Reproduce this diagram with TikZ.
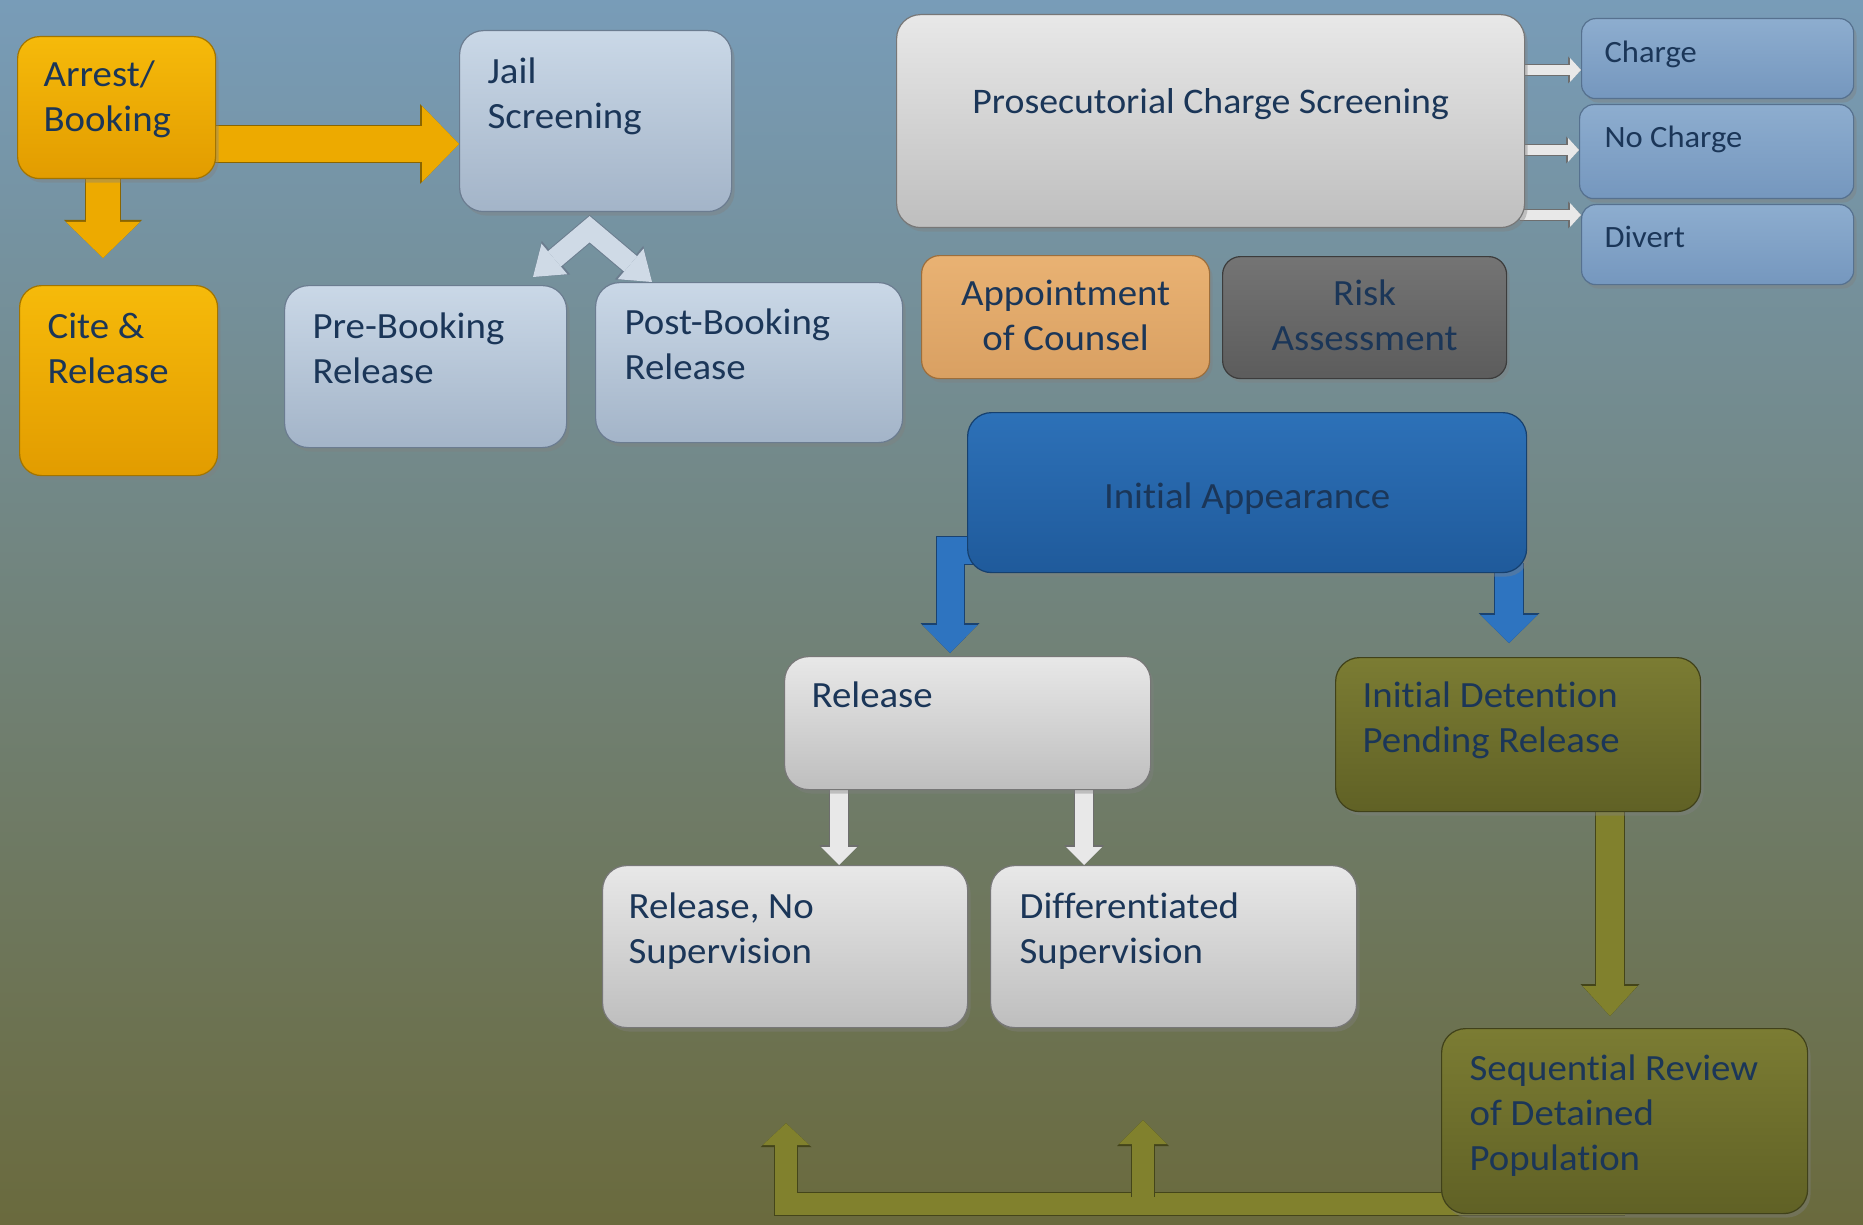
\documentclass[tikz,border=0pt]{standalone}
\usepackage{fontspec}
\setmainfont{Carlito}[FakeStretch=1.05, Ligatures=NoCommon]
\usetikzlibrary{arrows.meta,calc,shadows}
\pgfdeclarelayer{backdrop}
\pgfdeclarelayer{links}
\pgfsetlayers{backdrop,links,main}

% page gradient
\definecolor{bgT}{HTML}{789CB8}
\definecolor{bgM}{HTML}{6F8994}
\definecolor{bgB}{HTML}{6A6A3D}
% text
\definecolor{txt}{HTML}{1B3658}
% box fills
\definecolor{orT}{HTML}{F6BA0A}\definecolor{orB}{HTML}{E29C00}\definecolor{orD}{HTML}{A27400}
\definecolor{lbT}{HTML}{CAD8E7}\definecolor{lbB}{HTML}{A3B4C8}\definecolor{lbD}{HTML}{6B7C90}
\definecolor{gyT}{HTML}{E8E8E8}\definecolor{gyB}{HTML}{BEBEBE}\definecolor{gyD}{HTML}{777777}
\definecolor{cbT}{HTML}{8DADCF}\definecolor{cbB}{HTML}{7597BE}\definecolor{cbD}{HTML}{56718F}
\definecolor{tnT}{HTML}{E9B273}\definecolor{tnB}{HTML}{D9A062}\definecolor{tnD}{HTML}{9C6E3C}
\definecolor{dgT}{HTML}{747474}\definecolor{dgB}{HTML}{5C5C5C}\definecolor{dgD}{HTML}{3C3C3C}
\definecolor{iaT}{HTML}{2D71B8}\definecolor{iaB}{HTML}{1F5A9B}\definecolor{iaD}{HTML}{16406E}
\definecolor{olT}{HTML}{7B7C33}\definecolor{olB}{HTML}{606125}\definecolor{olD}{HTML}{40411A}
% arrow fills and rims
\definecolor{oaF}{HTML}{EDAA00}\definecolor{oaD}{HTML}{8A6500}
\definecolor{laF}{HTML}{CFDAE6}\definecolor{laD}{HTML}{6C7D8F}
\definecolor{waF}{HTML}{E8E8E8}\definecolor{waD}{HTML}{6E6E6E}
\definecolor{baF}{HTML}{2E74C0}\definecolor{baD}{HTML}{1A4270}
\definecolor{olF}{HTML}{81812D}\definecolor{olR}{HTML}{44451A}

% box contents: width, height, left pad, first baseline, text
\newcommand{\lbox}[5]{\parbox[c][#2pt][t]{#1pt}{\raggedright\leftskip=#3pt\rule{0pt}{#4pt}#5}}
% centred contents: width, height, first baseline, text
\newcommand{\cbox}[4]{\parbox[c][#2pt][t]{#1pt}{\centering\rule{0pt}{#3pt}#4}}

\tikzset{
  card/.style={anchor=north west, rounded corners=24pt, inner sep=0pt, line width=1.2pt,
    text=txt, font=\fontsize{37}{44.5}\selectfont,
    drop shadow={opacity=0.4, shadow xshift=3pt, shadow yshift=-4pt}},
  orangecard/.style={card, draw=orD, top color=orT, bottom color=orB},
  jailcard/.style={card, draw=lbD, top color=lbT, bottom color=lbB},
  greycard/.style={card, draw=gyD, top color=gyT, bottom color=gyB},
  chargecard/.style={card, rounded corners=14pt, draw=cbD, top color=cbT, bottom color=cbB,
    font=\fontsize{31}{37}\selectfont},
  tancard/.style={card, rounded corners=18pt, draw=tnD, top color=tnT, bottom color=tnB},
  darkcard/.style={card, rounded corners=18pt, draw=dgD, top color=dgT, bottom color=dgB},
  bluecard/.style={card, draw=iaD, top color=iaT, bottom color=iaB},
  olivecard/.style={card, draw=olD, top color=olT, bottom color=olB},
  % block arrow: fill, rim, shaft width, tip length, tip width, rim tip length, rim tip width
  blk/.style n args={7}{line join=miter,
    preaction={draw=#2, line join=miter, line width=#3+2pt,
      -{Triangle[length=#6, width=#7, line width=0pt]}},
    draw=#1, line width=#3, -{Triangle[length=#4, width=#5, line width=0pt]}},
}

\begin{document}
\begin{tikzpicture}[x=1pt,y=-1pt]
\useasboundingbox (0,0) rectangle (1863,1225);
\begin{pgfonlayer}{backdrop}
  \shade[top color=bgT, middle color=bgM, bottom color=bgB] (0,0) rectangle (1863,1225);
\end{pgfonlayer}

% booking stage
\node[orangecard, rounded corners=22pt] (arrest) at (17,36) {\lbox{198}{142}{26}{50}{Arrest/\\Booking}};
\node[orangecard, rounded corners=22pt] (cite) at (19,285) {\lbox{198}{190}{28}{53}{Cite \&\\Release}};
\node[jailcard] (jail) at (459,30) {\lbox{272}{181}{28}{53}{Jail\\Screening}};
\node[jailcard] (pre) at (284,285) {\lbox{282}{162}{28}{53}{Pre-Booking\\Release}};
\node[jailcard] (post) at (595,282) {\lbox{307}{160}{29}{52}{Post-Booking\\Release}};

% charging stage
\node[greycard, font=\fontsize{36}{43}\selectfont] (pcs) at (896,14) {\cbox{628}{213}{99}{Prosecutorial Charge Screening}};
\node[chargecard] (charge) at (1581,18) {\lbox{272}{80}{23}{44}{Charge}};
\node[chargecard] (nocharge) at (1579,104) {\lbox{274}{94}{25}{43}{No Charge}};
\node[chargecard] (divert) at (1581,204) {\lbox{272}{80}{23}{43}{Divert}};
\node[tancard, font=\fontsize{37}{45}\selectfont] (counsel) at (921,255) {\cbox{288}{123}{50}{Appointment\\of Counsel}};
\node[darkcard, font=\fontsize{37}{45}\selectfont] (risk) at (1222,256) {\cbox{284}{122}{49}{Risk\\Assessment}};

% first appearance and outcomes
\node[bluecard] (ia) at (967,412) {\cbox{559}{160}{96}{Initial Appearance}};
\node[greycard] (release) at (784,656) {\lbox{366}{133}{27}{51}{Release}};
\node[olivecard] (detention) at (1335,657) {\lbox{365}{154}{27}{50}{Initial Detention\\Pending Release}};
\node[greycard] (rns) at (602,865) {\lbox{365}{162}{26}{53}{Release, No\\Supervision}};
\node[greycard] (diff) at (990,865) {\lbox{366}{162}{29}{53}{Differentiated\\Supervision}};
\node[olivecard, font=\fontsize{37}{45}\selectfont] (seq) at (1441,1028) {\lbox{366}{185}{28}{52}{Sequential Review\\of Detained\\Population}};

\coordinate (branch) at (1143,1197);

\begin{pgfonlayer}{links}
  % booking arrows
  \draw[blk={oaF}{oaD}{36pt}{37pt}{76pt}{39pt}{80pt}]
    ($(arrest.east |- 0,144)+(-6,0)$) -- (jail.west |- 0,144);
  \draw[blk={oaF}{oaD}{34pt}{36pt}{74pt}{38pt}{78pt}]
    ($(103,0 |- arrest.south)+(0,-6)$) -- ($(103,0 |- cite.north)+(0,-27)$);
  % screening splits into the two release paths
  \draw[line join=miter,
    preaction={draw=laD, line join=miter, line width=22pt,
      {Triangle[length=30pt, width=44pt, line width=0pt]}-{Triangle[length=30pt, width=44pt, line width=0pt]}},
    draw=laF, line width=20pt,
    {Triangle[length=28pt, width=40pt, line width=0pt]}-{Triangle[length=28pt, width=40pt, line width=0pt]}]
    ($(pre.north -| 533,0)+(0,-8)$) -- ($(jail.south)+(-6,17)$) -- (post.north -| 652,0);
  % charging decisions
  \foreach \t/\y in {charge/70, nocharge/150, divert/215}
    \draw[blk={waF}{waD}{10pt}{11pt}{24pt}{13pt}{27pt}]
      ($(pcs.east |- 0,\y)+(-5,0)$) -- (\t.west |- 0,\y);
  % initial appearance outcomes
  \draw[blk={baF}{baD}{27pt}{28pt}{55pt}{30pt}{59pt}]
    ($(ia.west |- 0,550)+(30,0)$) -| ($(release.north -| 950,0)+(0,-3)$);
  \draw[blk={baF}{baD}{28pt}{28pt}{57pt}{30pt}{61pt}]
    ($(1509,0 |- ia.south)+(0,-10)$) -- ($(1509,0 |- detention.north)+(0,-14)$);
  % release types
  \draw[blk={waF}{waD}{18pt}{18pt}{36pt}{20pt}{40pt}]
    ($(839,0 |- release.south)+(0,-5)$) -- (839,0 |- rns.north);
  \draw[blk={waF}{waD}{18pt}{18pt}{36pt}{20pt}{40pt}]
    ($(1084,0 |- release.south)+(0,-5)$) -- (1084,0 |- diff.north);
  % detention review loop
  \draw[blk={olF}{olR}{28pt}{30pt}{55pt}{32pt}{59pt}]
    ($(1610,0 |- detention.south)+(0,-5)$) -- ($(1610,0 |- seq.north)+(0,-12)$);
  \draw[blk={olF}{olR}{22pt}{22pt}{47pt}{24pt}{51pt}]
    (seq.center |- 0,1204) -| ($(rns.south -| 786,0)+(0,95)$);
  \draw[blk={olF}{olR}{22pt}{24pt}{48pt}{26pt}{52pt}]
    (branch) -- ($(diff.south -| 1143,0)+(0,92)$);
\end{pgfonlayer}
\end{tikzpicture}
\end{document}
